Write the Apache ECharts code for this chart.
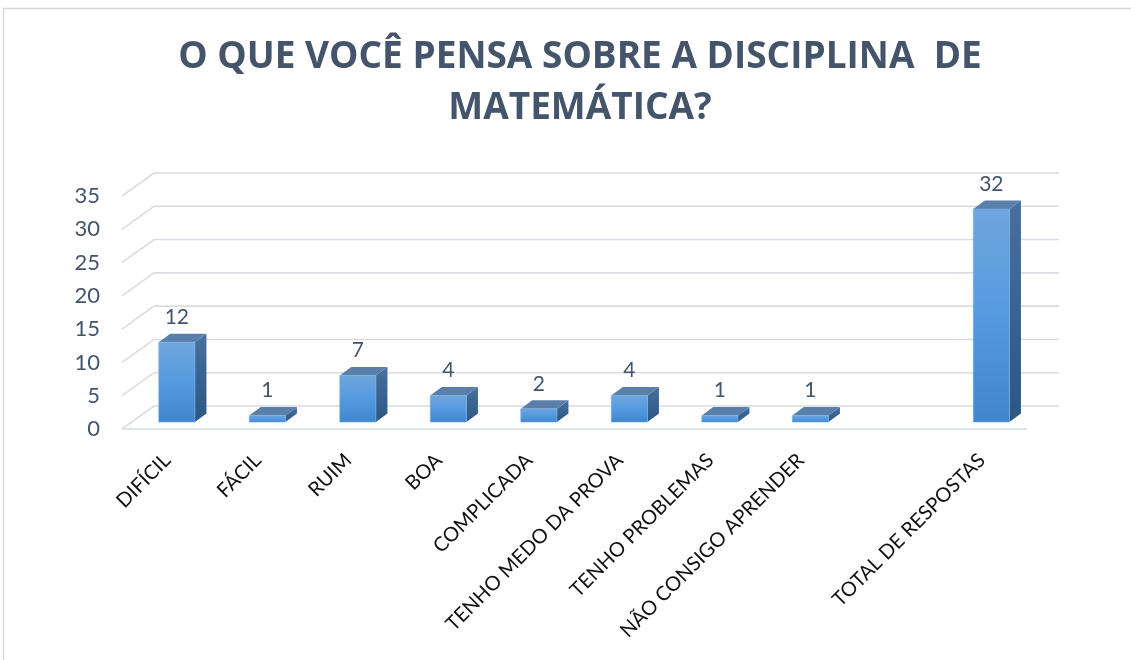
<!DOCTYPE html>
<html>
<head>
<meta charset="utf-8">
<script src="https://cdn.jsdelivr.net/npm/echarts@6/dist/echarts.min.js"></script>
<style>
html,body{margin:0;padding:0;background:#fff;}
#chart{width:1131px;height:660px;}
</style>
</head>
<body>
<div id="chart"></div>
<script>
// ---- data ----
var titleText = 'O QUE VOCÊ PENSA SOBRE A DISCIPLINA  DE\nMATEMÁTICA?';
var categories = ['DIFÍCIL','FÁCIL','RUIM','BOA','COMPLICADA','TENHO MEDO DA PROVA','TENHO PROBLEMAS','NÃO CONSIGO APRENDER','','TOTAL DE RESPOSTAS'];
var values = [12, 1, 7, 4, 2, 4, 1, 1, null, 32];
var yTicks = [0, 5, 10, 15, 20, 25, 30, 35];

// ---- 3D look (pixels) ----
var WALL_DX = 32, WALL_DY = -23;      // depth of the floor / side wall
var BAR_POS = 0.3;                    // bar front face depth fraction
var BAR_DX = 11.5, BAR_DY = -8.5;     // depth of each bar
var BAR_W = 0.4;                      // bar width as fraction of band

var barData = [];
values.forEach(function (v, i) { if (v !== null) barData.push([i, v]); });
var gridData = yTicks.map(function (t) { return [0, t]; });

var chart = echarts.init(document.getElementById('chart'), null, {renderer: 'canvas'});
var GRID = '#D9DCE1';
var option = {
  backgroundColor: '#fff',
  animation: false,
  title: {
    text: titleText,
    left: 575,
    top: 27,
    textAlign: 'center',
    textStyle: {
      fontFamily: 'Open Sans',
      fontWeight: 'bold',
      fontSize: 37,
      lineHeight: 51,
      color: '#44546A'
    }
  },
  graphic: [{
    type: 'rect',
    shape: {x: 3.5, y: 8.5, width: 1140, height: 700},
    style: {fill: 'none', stroke: '#D9D9D9', lineWidth: 1.5},
    silent: true, z: -10
  }],
  grid: {left: 122, right: 104, top: 196, bottom: 231},
  xAxis: {
    type: 'category',
    data: categories,
    axisLine: {show: false},
    axisTick: {show: false},
    axisLabel: {
      rotate: 45,
      interval: 0,
      margin: 28,
      fontFamily: 'Lato',
      fontSize: 20,
      color: '#111'
    }
  },
  yAxis: {
    type: 'value',
    min: 0, max: 35, interval: 5,
    axisLine: {show: false},
    axisTick: {show: false},
    splitLine: {show: false},
    axisLabel: {
      margin: 22,
      fontFamily: 'Lato',
      fontSize: 22,
      color: '#44546A'
    }
  },
  series: [
    {
      type: 'custom',
      data: gridData,
      z: 1,
      silent: true,
      renderItem: function (params, api) {
        var v = api.value(1);
        var p = api.coord([0, v]);
        var band = api.size([1, 0])[0];
        var gl = p[0] - band / 2;
        var gr = gl + band * categories.length;
        var y = p[1];
        var children = [{
          type: 'polyline',
          shape: {points: [[gl, y], [gl + WALL_DX, y + WALL_DY], [gr + WALL_DX, y + WALL_DY]]},
          style: {fill: 'none', stroke: GRID, lineWidth: 1.6}
        }];
        if (v === 0) {
          children.push({
            type: 'line',
            shape: {x1: gl, y1: y, x2: gr, y2: y},
            style: {stroke: GRID, lineWidth: 1.6}
          });
        }
        return {type: 'group', children: children};
      }
    },
    {
      type: 'custom',
      data: barData,
      z: 5,
      renderItem: function (params, api) {
        var idx = api.value(0);
        var base = api.coord([idx, 0]);
        var top = api.coord([idx, api.value(1)]);
        var bw = api.size([1, 0])[0] * BAR_W;
        var ox = BAR_POS * WALL_DX, oy = BAR_POS * WALL_DY;
        var x0 = base[0] - bw / 2 + ox, x1 = x0 + bw;
        var yb = base[1] + oy, yt = top[1] + oy;
        return {
          type: 'group',
          children: [
            {
              type: 'polygon',
              shape: {points: [[x1, yt], [x1 + BAR_DX, yt + BAR_DY], [x1 + BAR_DX, yb + BAR_DY], [x1, yb]]},
              style: {fill: {type: 'linear', x: 0, y: 0, x2: 0, y2: 1, colorStops: [
                {offset: 0, color: '#46709E'}, {offset: 1, color: '#2C5782'}]}}
            },
            {
              type: 'polygon',
              shape: {points: [[x0, yt], [x1, yt], [x1 + BAR_DX, yt + BAR_DY], [x0 + BAR_DX, yt + BAR_DY]]},
              style: {fill: '#5A7FAA'}
            },
            {
              type: 'rect',
              shape: {x: x0, y: yt, width: bw, height: yb - yt},
              style: {fill: {type: 'linear', x: 0, y: 0, x2: 0, y2: 1, colorStops: [
                {offset: 0, color: '#6FA6DD'}, {offset: 0.5, color: '#559AE0'}, {offset: 1, color: '#3F86CF'}]},
                stroke: '#7DB0E4', lineWidth: 0.6}
            },
            {
              type: 'text',
              style: {
                text: String(api.value(1)),
                x: x0 + bw / 2,
                y: yt + BAR_DY - 6,
                align: 'center',
                verticalAlign: 'bottom',
                fontFamily: 'Lato',
                fontSize: 21,
                fill: '#44546A'
              }
            }
          ]
        };
      }
    }
  ]
};
chart.setOption(option);
</script>
</body>
</html>
